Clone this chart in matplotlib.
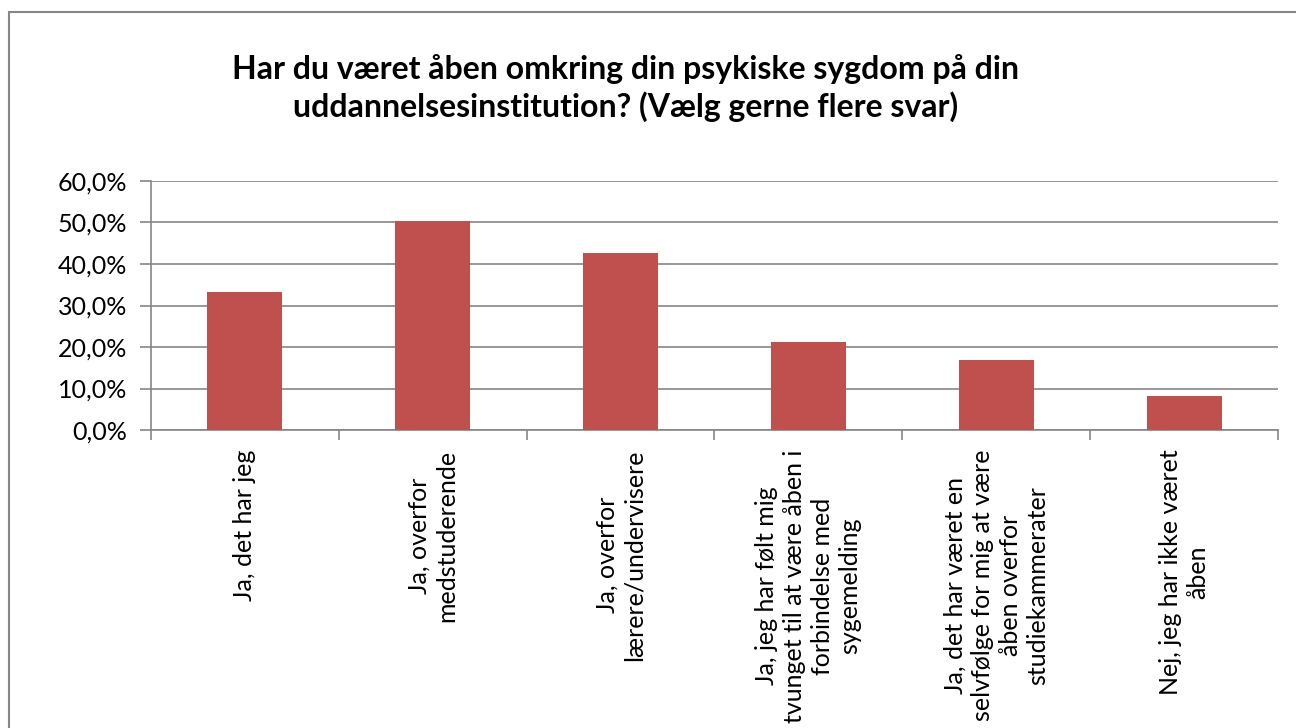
import numpy as np
import matplotlib
matplotlib.use("Agg")
import matplotlib.pyplot as plt
from matplotlib.patches import Rectangle
from matplotlib.ticker import FuncFormatter

plt.rcParams['font.family'] = ['Lato', 'DejaVu Sans']

title = "Har du været åben omkring din psykiske sygdom på din\nuddannelsesinstitution? (Vælg gerne flere svar)"
categories = [
    "Ja, det har jeg",
    "Ja, overfor\nmedstuderende",
    "Ja, overfor\nlærere/undervisere",
    "Ja, jeg har følt mig\ntvunget til at være åben i\nforbindelse med\nsygemelding",
    "Ja, det har været en\nselvfølge for mig at være\nåben overfor\nstudiekammerater",
    "Nej, jeg har ikke været\nåben",
]
values = [33.3, 50.4, 42.7, 21.3, 16.9, 8.1]
yticks = [0, 10, 20, 30, 40, 50, 60]

bar_color = "#C0504D"
grid_color = "#868686"

fig = plt.figure(figsize=(12.96, 7.28), dpi=100)
fig.patch.set_facecolor("white")

# outer chart border (only top/left visible in the reference)
fig.patches.append(Rectangle((9 / 1296, -0.1), 1.2, 1 - 12 / 728 + 0.1,
                             transform=fig.transFigure, fill=False,
                             edgecolor=grid_color, linewidth=1.5))

ax = fig.add_axes([151 / 1296, 1 - 430 / 728, (1278 - 151) / 1296, (430 - 181) / 728])

x = np.arange(len(categories))
ax.bar(x, values, width=0.4, color=bar_color, zorder=3)

ax.set_xlim(-0.5, len(categories) - 0.5)
ax.set_ylim(0, 60)
ax.set_yticks(yticks)
ax.yaxis.set_major_formatter(FuncFormatter(lambda v, p: f"{v:.1f}%".replace(".", ",")))
ax.yaxis.grid(True, color=grid_color, linewidth=1.2, zorder=0)

ax.set_xticks(x)
ax.set_xticklabels(categories, rotation=90, ha="center", va="top",
                   multialignment="center", fontsize=18, linespacing=1.25)
ax.set_xticks(np.arange(-0.5, len(categories)), minor=True)
ax.tick_params(axis="x", which="major", length=0, pad=14)
ax.tick_params(axis="x", which="minor", length=7, color=grid_color, width=1.2)
ax.tick_params(axis="y", length=8, color=grid_color, width=1.2, labelsize=18, pad=9)

for side in ["top", "right"]:
    ax.spines[side].set_visible(False)
for side in ["left", "bottom"]:
    ax.spines[side].set_color(grid_color)
    ax.spines[side].set_linewidth(1.2)

fig.text(626 / 1296, 1 - 88 / 728, title, ha="center", va="center",
         fontsize=23, fontweight="bold", linespacing=1.25)

fig.savefig("out.png", dpi=100)
